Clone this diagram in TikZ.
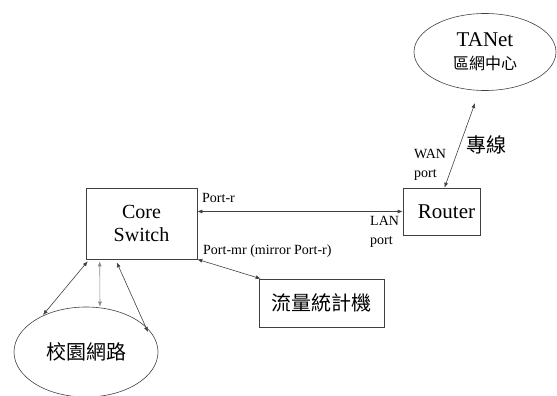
\documentclass[tikz,border=0pt]{standalone}
\usepackage{fontspec}
\setmainfont{Liberation Serif}
\newfontfamily\cjk{Noto Sans CJK TC}
\usetikzlibrary{shapes.geometric,arrows.meta,calc}
\begin{document}
\begin{tikzpicture}[x=1pt,y=-1pt,
  line/.style={draw=black!75,line width=0.6pt},
  conn/.style={line,{Latex[length=5pt,width=4pt]}-{Latex[length=5pt,width=4pt]}},
  boxnode/.style={line,rectangle,inner sep=0pt},
  ovalnode/.style={line,ellipse,inner sep=0pt},
  small/.style={font=\fontsize{14}{19}\selectfont,inner sep=0pt,align=left}]
\useasboundingbox (0,0) rectangle (557,396);
\node[boxnode,minimum width=111pt,minimum height=71pt,align=center,font=\fontsize{20}{23}\selectfont] (core) at (141.5,223.5) {Core\\Switch};
\node[boxnode,minimum width=77pt,minimum height=47pt,font=\fontsize{21}{22}\selectfont] (router) at (441.5,211.5) {\hspace{10pt}Router};
\node[boxnode,minimum width=125pt,minimum height=48pt,font=\cjk\fontsize{20}{22}\selectfont] (stat) at (321.5,303) {流量統計機};
\node[ovalnode,minimum width=142pt,minimum height=77pt,align=center,font=\fontsize{21}{23}\selectfont] (tanet) at (485,52) {TANet\\{\cjk\fontsize{16}{23}\selectfont 區網中心}};
\node[ovalnode,minimum width=144pt,minimum height=90pt,font=\cjk\fontsize{20}{22}\selectfont] (campus) at (86,352) {校園網路};
% connectors
\draw[conn] (core.east |- router.west) -- (router.west);
\draw[conn] (core.south east) -- ($(stat.north west)+(2,0)$);
\draw[conn] ($(core.south west)+(2,2)$) -- ($(campus.center)+(-43,-37)$);
\draw[conn,draw=black!45] ($(core.south west)+(14,2)$) -- ($(campus.north)+(14,0)$);
\draw[conn] ($(core.south west)+(31,3)$) -- ($(campus.center)+(62,-20)$);
\draw[conn] ($(router.north)+(3,0)$) -- ($(tanet.center)+(-10,51)$);
% labels
\node[small,anchor=west] (lpr) at (202,198) {Port-r};
\node[small,anchor=west] (lpmr) at (203,251) {Port-mr (mirror Port-r)};
\node[small,anchor=west] (llan) at (370,232) {LAN\\port};
\node[small,anchor=west] (lwan) at (414,165) {WAN\\port};
\node[font=\cjk\fontsize{20}{22}\selectfont,inner sep=0pt] (lline) at (486,145) {專線};
\end{tikzpicture}
\end{document}
